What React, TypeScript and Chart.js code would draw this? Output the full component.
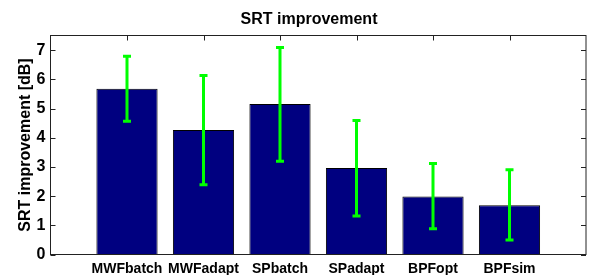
import React, { useEffect, useRef } from 'react';
import { Chart, registerables } from 'chart.js';

Chart.register(...registerables);

const chartTitle = 'SRT improvement';
const yAxisTitle = 'SRT improvement [dB]';
const categories = ['MWFbatch', 'MWFadapt', 'SPbatch', 'SPadapt', 'BPFopt', 'BPFsim'];
const means = [5.68, 4.26, 5.15, 2.96, 1.99, 1.69];
const errLow = [4.56, 2.39, 3.19, 1.32, 0.88, 0.5];
const errHigh = [6.79, 6.13, 7.09, 4.59, 3.12, 2.9];
const yTicks = [0, 1, 2, 3, 4, 5, 6, 7];
const yMin = 0;
const yMax = 7.5;

const FONT = '"Liberation Sans", Arial, Helvetica, sans-serif';

export default function App() {
  const ref = useRef<HTMLCanvasElement>(null);

  useEffect(() => {
    const canvas = ref.current;
    if (!canvas) return;

    const labels = ['', ...categories, ''];
    const data = [null, ...means, null];

    const errorBars = {
      id: 'errorBars',
      afterDatasetsDraw(chart: any) {
        const { ctx, scales } = chart;
        const xs = scales.x;
        const ys = scales.y;
        ctx.save();
        ctx.strokeStyle = '#00ff00';
        ctx.lineWidth = 3;
        ctx.lineCap = 'butt';
        categories.forEach((_, i) => {
          const x = xs.getPixelForValue(i + 1);
          const yl = ys.getPixelForValue(errLow[i]);
          const yh = ys.getPixelForValue(errHigh[i]);
          ctx.beginPath();
          ctx.moveTo(x, yl);
          ctx.lineTo(x, yh);
          ctx.moveTo(x - 4, yl);
          ctx.lineTo(x + 4, yl);
          ctx.moveTo(x - 4, yh);
          ctx.lineTo(x + 4, yh);
          ctx.stroke();
        });
        ctx.restore();
      },
    };

    const frame = {
      id: 'frame',
      afterDraw(chart: any) {
        const { ctx, chartArea, scales } = chart;
        const { left, right, top, bottom } = chartArea;
        ctx.save();
        ctx.strokeStyle = '#222';
        ctx.lineWidth = 1;
        ctx.strokeRect(left, top, right - left, bottom - top);
        ctx.beginPath();
        yTicks.forEach((v) => {
          const y = Math.round(scales.y.getPixelForValue(v)) + 0.5;
          ctx.moveTo(left, y);
          ctx.lineTo(left + 5, y);
          ctx.moveTo(right, y);
          ctx.lineTo(right - 5, y);
        });
        categories.forEach((_, i) => {
          const x = Math.round(scales.x.getPixelForValue(i + 1)) + 0.5;
          ctx.moveTo(x, top);
          ctx.lineTo(x, top + 5);
        });
        ctx.stroke();
        ctx.fillStyle = '#000';
        ctx.font = `bold 16px ${FONT}`;
        ctx.textAlign = 'center';
        ctx.textBaseline = 'alphabetic';
        ctx.fillText(chartTitle, 309, 23.5);
        ctx.restore();
      },
    };

    const chart = new Chart(canvas, {
      type: 'bar',
      data: {
        labels,
        datasets: [
          {
            data,
            backgroundColor: '#000080',
            borderColor: '#000000',
            borderWidth: 1,
            categoryPercentage: 1,
            barPercentage: 0.8,
          } as any,
        ],
      },
      options: {
        responsive: false,
        animation: false,
        events: [],
        layout: { padding: { left: 0, right: 2.5, top: 35.5, bottom: 0 } },
        plugins: {
          legend: { display: false },
          tooltip: { enabled: false },
          title: { display: false },
        },
        scales: {
          x: {
            type: 'category',
            offset: false,
            grid: { display: false, drawTicks: false },
            border: { display: false },
            ticks: {
              autoSkip: false,
              maxRotation: 0,
              minRotation: 0,
              padding: 6,
              color: '#000',
              font: { family: FONT, size: 14, weight: 'bold' },
            },
            afterFit(scale: any) {
              scale.height = 20.5;
            },
          },
          y: {
            type: 'linear',
            min: yMin,
            max: yMax,
            grid: { display: false, drawTicks: false },
            border: { display: false },
            ticks: {
              padding: 5,
              color: '#000',
              font: { family: FONT, size: 16, weight: 'bold' },
              callback: (v: any) => String(v),
            },
            afterBuildTicks(scale: any) {
              scale.ticks = yTicks.map((v) => ({ value: v }));
            },
            afterFit(scale: any) {
              scale.width = 50.5;
            },
            title: {
              display: true,
              text: yAxisTitle,
              color: '#000',
              font: { family: FONT, size: 16, weight: 'bold' },
              padding: { top: 15.5, bottom: 0 },
            },
          },
        },
      } as any,
      plugins: [errorBars, frame],
    });

    return () => chart.destroy();
  }, []);

  return (
    <div style={{ position: 'absolute', left: 0, top: 0, width: 592, height: 275, background: '#fff' }}>
      <canvas ref={ref} width={592} height={275} style={{ display: 'block', width: 592, height: 275 }} />
    </div>
  );
}
